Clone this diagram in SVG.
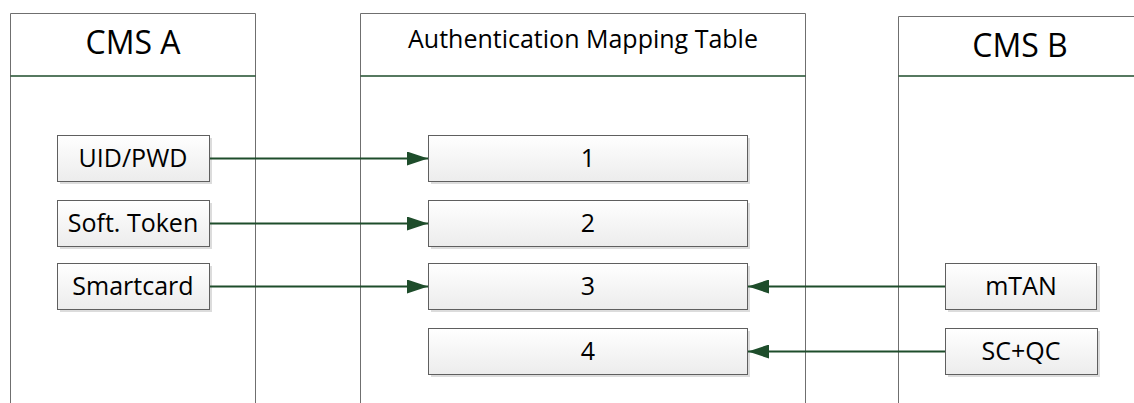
<svg xmlns="http://www.w3.org/2000/svg" width="1134" height="403" viewBox="0 0 1134 403">
<style>
.lane{fill:#ffffff;stroke:#6f6f6f;stroke-width:1}
.div{stroke:#1e4d2b;stroke-width:1.3}
.box{fill:url(#g);stroke:#5f5f5f;stroke-width:1}
.sh{fill:#dcdcdc}
.t{font-family:"Open Sans","Noto Sans",sans-serif;fill:#000;text-anchor:middle}
.h1{font-size:32px}
.h2{font-size:25px}
.bt{font-size:25px}
.c{stroke:#1e4d2b;stroke-width:2;fill:none;marker-end:url(#ah)}
</style>
<defs>
<linearGradient id="g" x1="0" y1="0" x2="0" y2="1">
<stop offset="0" stop-color="#ffffff"/>
<stop offset="1" stop-color="#ececec"/>
</linearGradient>
<marker id="ah" markerUnits="userSpaceOnUse" markerWidth="21" markerHeight="14" refX="21" refY="7" orient="auto">
<path d="M0,0 L21,7 L0,14 z" fill="#1e4d2b"/>
</marker>
</defs>
<rect width="1134" height="403" fill="#ffffff"/>
<g id="lane-cms-a">
<path class="lane" d="M10.5,403 V13.5 H255.5 V403"/>
<line class="div" x1="10.5" y1="76" x2="255.5" y2="76"/>
<text class="t h1" x="133" y="54">CMS A</text>
</g>
<g id="lane-table">
<path class="lane" d="M360.5,403 V13.5 H805.5 V403"/>
<line class="div" x1="360.5" y1="76" x2="805.5" y2="76"/>
<text class="t h2" x="583" y="48">Authentication Mapping Table</text>
</g>
<g id="lane-cms-b">
<path class="lane" d="M898.5,403 V16.5 H1140"/>
<line class="div" x1="898.5" y1="76" x2="1134" y2="76"/>
<text class="t h1" x="1020" y="57">CMS B</text>
</g>
<g id="n-uid">
<rect class="sh" x="60" y="138" width="152" height="46"/>
<rect class="box" x="57.5" y="135.5" width="152" height="46"/>
<text class="t bt" x="133" y="167">UID/PWD</text>
</g>
<g id="n-soft">
<rect class="sh" x="60" y="203" width="152" height="46"/>
<rect class="box" x="57.5" y="200.5" width="152" height="46"/>
<text class="t bt" x="133" y="232">Soft. Token</text>
</g>
<g id="n-smart">
<rect class="sh" x="60" y="266" width="152" height="46"/>
<rect class="box" x="57.5" y="263.5" width="152" height="46"/>
<text class="t bt" x="133" y="295">Smartcard</text>
</g>
<g id="n-1">
<rect class="sh" x="431" y="138" width="319" height="46"/>
<rect class="box" x="428.5" y="135.5" width="319" height="46"/>
<text class="t bt" x="588" y="167">1</text>
</g>
<g id="n-2">
<rect class="sh" x="431" y="203" width="319" height="46"/>
<rect class="box" x="428.5" y="200.5" width="319" height="46"/>
<text class="t bt" x="588" y="232">2</text>
</g>
<g id="n-3">
<rect class="sh" x="431" y="266" width="319" height="46"/>
<rect class="box" x="428.5" y="263.5" width="319" height="46"/>
<text class="t bt" x="588" y="295">3</text>
</g>
<g id="n-4">
<rect class="sh" x="431" y="331" width="319" height="46"/>
<rect class="box" x="428.5" y="328.5" width="319" height="46"/>
<text class="t bt" x="588" y="360">4</text>
</g>
<g id="n-mtan">
<rect class="sh" x="948" y="266" width="152" height="46"/>
<rect class="box" x="945.5" y="263.5" width="151" height="46"/>
<text class="t bt" x="1021" y="295">mTAN</text>
</g>
<g id="n-scqc">
<rect class="sh" x="948" y="331" width="152" height="46"/>
<rect class="box" x="945.5" y="328.5" width="152" height="46"/>
<text class="t bt" x="1021" y="360">SC+QC</text>
</g>
<g id="connectors">
<line class="c" x1="210" y1="158.5" x2="428" y2="158.5"/>
<line class="c" x1="210" y1="223.5" x2="428" y2="223.5"/>
<line class="c" x1="210" y1="286.5" x2="428" y2="286.5"/>
<line class="c" x1="945" y1="286.5" x2="748" y2="286.5"/>
<line class="c" x1="945" y1="351.5" x2="748" y2="351.5"/>
</g>
</svg>
